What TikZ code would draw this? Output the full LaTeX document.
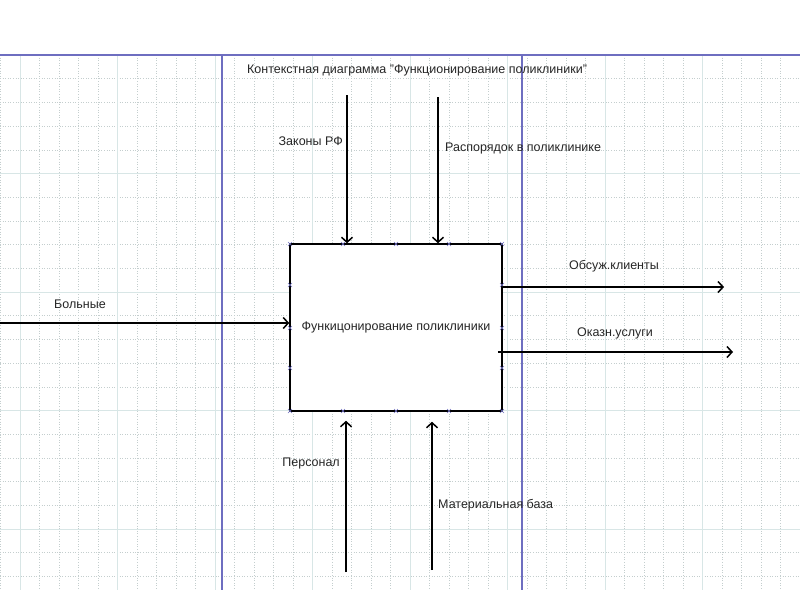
\documentclass[tikz,border=0pt]{standalone}
\usepackage{fontspec}
\setmainfont{Liberation Sans}
\usetikzlibrary{arrows.meta}
\definecolor{gridmaj}{HTML}{D8E6E6}
\definecolor{gridmin}{HTML}{C4CECE}
\definecolor{frameblue}{HTML}{6E6EC0}

\begin{document}
\begin{tikzpicture}[x=1pt, y=-1pt, font=\fontsize{12.5}{15}\selectfont]
\tikzstyle{funcbox}=[draw, line width=1.5pt, minimum width=212pt, minimum height=167pt, inner sep=0pt, text=black!85]
\tikzstyle{flow}=[line width=1.5pt, -{Straight Barb[length=5pt, width=11pt, line width=1.5pt]}]
\tikzstyle{lbl}=[inner sep=1pt, text=black!85]
\tikzstyle{xmark}=[frameblue, line width=0.6pt]
\useasboundingbox (0,0) rectangle (800,600);
\fill[white] (0,0) rectangle (800,600);

% grid
\foreach \i in {0,...,41}
  \draw[gridmin, dotted, line width=0.6pt] (\i*19.5+0.5,55) -- (\i*19.5+0.5,590);
\foreach \i in {0,...,22}
  \draw[gridmin, dotted, line width=0.6pt] (0,\i*23.7+55) -- (800,\i*23.7+55);
\foreach \i in {0,...,8}
  \draw[gridmaj, line width=0.9pt] (\i*97.5+20,55) -- (\i*97.5+20,590);
\foreach \i in {0,...,4}
  \draw[gridmaj, line width=0.9pt] (0,\i*118.5+55) -- (800,\i*118.5+55);

% frame
\draw[frameblue, line width=1.3pt] (0,55) -- (800,55);
\draw[frameblue, line width=1.3pt] (222,55) -- (222,590);
\draw[frameblue, line width=1.3pt] (522,55) -- (522,590);

\node[funcbox, fill=white] (func) at (396,327.5) {Функицонирование поликлиники};

\foreach \x in {290,343,396,449,502} {
  \draw[xmark] (\x-2,242) -- (\x+2,246) (\x-2,246) -- (\x+2,242);
  \draw[xmark] (\x-2,409) -- (\x+2,413) (\x-2,413) -- (\x+2,409);
}
\foreach \y in {285,328,368} {
  \draw[xmark] (288,\y-2) -- (292,\y+2) (288,\y+2) -- (292,\y-2);
  \draw[xmark] (500,\y-2) -- (504,\y+2) (500,\y+2) -- (504,\y-2);
}

\node[lbl, anchor=west] (title) at (246,70) {Контекстная диаграмма "Функционирование поликлиники"};

% controls
\coordinate (lawsIn) at (347,95);
\coordinate (rulesIn) at (438,97);
\draw[flow] (lawsIn) -- (lawsIn |- func.north);
\draw[flow] (rulesIn) -- (rulesIn |- func.north);
\node[lbl, anchor=east] (laws) at (344,141) {Законы РФ};
\node[lbl, anchor=west] (rules) at (444,148) {Распорядок в поликлинике};

% input
\coordinate (patientsIn) at (0,323);
\draw[flow] (patientsIn) -- (patientsIn -| func.west);
\node[lbl] (patients) at (80,304) {Больные};

% outputs
\coordinate (clientsOut) at (724,287);
\coordinate (servicesOut) at (733,352);
\draw[flow] (clientsOut -| func.east) -- (clientsOut);
\draw[flow] ([xshift=-5pt]servicesOut -| func.east) -- (servicesOut);
\node[lbl] (clients) at (614,266) {Обсуж.клиенты};
\node[lbl] (services) at (615,333) {Оказн.услуги};

% mechanisms
\coordinate (staffIn) at (346,572);
\coordinate (baseIn) at (432,570);
\draw[flow, shorten >=9pt] (staffIn) -- (staffIn |- func.south);
\draw[flow, shorten >=10pt] (baseIn) -- (baseIn |- func.south);
\node[lbl, anchor=east] (staff) at (341,463) {Персонал};
\node[lbl, anchor=west] (base) at (437,505) {Материальная база};
\end{tikzpicture}
\end{document}
